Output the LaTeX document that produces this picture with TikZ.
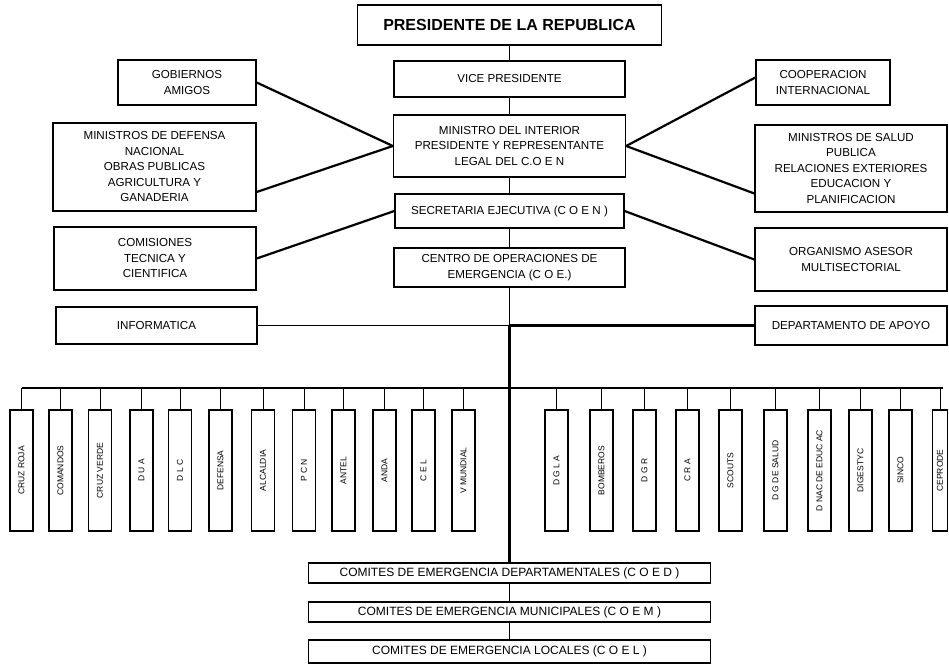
\documentclass[tikz,border=0pt]{standalone}
\usepackage{fontspec}
\setmainfont{Liberation Sans}
\tikzset{
    box/.style={draw, line width=1.3pt, align=center, inner sep=2pt, font=\fontsize{11.6}{15.5}\selectfont},
    topbox/.style={box, font=\bfseries\fontsize{16}{18}\selectfont},
    vbox/.style={draw, line width=1.3pt, minimum width=23pt, minimum height=121pt, inner sep=0pt, font=\fontsize{8.5}{9}\selectfont},
    cbox/.style={draw, line width=1.2pt, minimum width=402pt, inner sep=0pt, font=\fontsize{12}{13}\selectfont},
    link/.style={line width=2.2pt},
    thin link/.style={line width=1pt},
}
\begin{document}
\begin{tikzpicture}[x=1pt, y=-1pt]
        \useasboundingbox (0,0) rectangle (949,667);
        %central column
        \node[topbox, minimum width=304pt, minimum height=40pt] (pres) at (509.5,25) {PRESIDENTE DE LA REPUBLICA};
        \node[box, minimum width=231pt, minimum height=36pt] (vice) at (509.5,79) {VICE PRESIDENTE};
        \node[box, minimum width=232pt, minimum height=62pt] (mint) at (509.5,146) {MINISTRO DEL INTERIOR\\PRESIDENTE Y REPRESENTANTE\\LEGAL DEL C.O E N};
        \node[box, minimum width=229pt, minimum height=34pt] (secr) at (509.5,211) {SECRETARIA EJECUTIVA (C O E N )};
        \node[box, minimum width=231pt, minimum height=39pt] (coe) at (509.5,267.5) {CENTRO DE OPERACIONES DE\\EMERGENCIA (C O E.)};
        %left side
        \node[box, minimum width=138pt, minimum height=45pt] (gob) at (187,82.5) {GOBIERNOS\\AMIGOS};
        \node[box, minimum width=203pt, minimum height=88pt] (mdef) at (154.5,167) {MINISTROS DE DEFENSA\\NACIONAL\\OBRAS PUBLICAS\\AGRICULTURA Y\\GANADERIA};
        \node[box, minimum width=202pt, minimum height=63pt] (comi) at (155,258.5) {COMISIONES\\TECNICA Y\\CIENTIFICA};
        \node[box, minimum width=201pt, minimum height=37pt] (info) at (156.5,325.5) {INFORMATICA};
        %right side
        \node[box, minimum width=134pt, minimum height=45pt] (coop) at (823,82.5) {COOPERACION\\INTERNACIONAL};
        \node[box, minimum width=192pt, minimum height=87pt] (msal) at (851,168.5) {MINISTROS DE SALUD\\PUBLICA\\RELACIONES EXTERIORES\\EDUCACION Y\\PLANIFICACION};
        \node[box, minimum width=192pt, minimum height=63pt] (orga) at (851,259.5) {ORGANISMO ASESOR\\MULTISECTORIAL};
        \node[box, minimum width=192pt, minimum height=39pt] (dept) at (851,325.5) {DEPARTAMENTO DE APOYO};
        %comites
        \node[cbox, minimum height=20pt] (coed) at (509.5,573) {COMITES DE EMERGENCIA DEPARTAMENTALES (C O E D )};
        \node[cbox, minimum height=20pt] (coem) at (509.5,612) {COMITES DE EMERGENCIA MUNICIPALES (C O E M )};
        \node[cbox, minimum height=23pt] (coel) at (509.5,651.5) {COMITES DE EMERGENCIA LOCALES (C O E L )};
        %draw central links
        \draw[thin link] (pres) -- (vice);
        \draw[thin link] (vice) -- (mint);
        \draw[thin link] (mint) -- (secr);
        \draw[thin link] (secr) -- (coe);
        \coordinate (hub) at (coe.south |- info.east);
        \draw[thin link] (coe) -- (hub);
        \draw[link] (hub) -- (coed);
        \draw[thin link] (coed) -- (coem);
        \draw[thin link] (coem) -- (coel);
        \draw[line width=1.3pt] (info) -- (hub);
        \draw[link] (hub) -- (dept);
        %draw side links
        \draw[link] (gob.east) -- (mint.west);
        \draw[link] ([yshift=-25pt]mdef.east) -- (mint.west);
        \draw[link] (comi.east) -- (secr.west);
        \draw[link] ([yshift=5pt]coop.west) -- (mint.east);
        \draw[link] ([yshift=-25pt]msal.west) -- (mint.east);
        \draw[link] (orga.west) -- (secr.east);
        %draw bus
        \coordinate (busL) at (22,388);
        \coordinate (busR) at (943,388);
        \draw[link] (busL) -- (busR);
        %left units
        \node[vbox] (cruzr) at (21.5,470.5) {\rotatebox{90}{CRUZ ROJA}};
        \node[vbox] (coman) at (60.5,470.5) {\rotatebox{90}{COMANDOS}};
        \node[vbox] (cruzv) at (100,470.5) {\rotatebox{90}{CRUZ VERDE}};
        \node[vbox] (dua) at (141.5,470.5) {\rotatebox{90}{D U A}};
        \node[vbox] (dlc) at (180,470.5) {\rotatebox{90}{D L C}};
        \node[vbox] (defe) at (220.5,470.5) {\rotatebox{90}{DEFENSA}};
        \node[vbox] (alca) at (263,470.5) {\rotatebox{90}{ALCALDIA}};
        \node[vbox] (pcn) at (304,470.5) {\rotatebox{90}{P C N}};
        \node[vbox] (ante) at (343.5,470.5) {\rotatebox{90}{ANTEL}};
        \node[vbox] (anda) at (384.5,470.5) {\rotatebox{90}{ANDA}};
        \node[vbox] (cel) at (423.5,470.5) {\rotatebox{90}{C E L}};
        \node[vbox] (vmun) at (463.5,470.5) {\rotatebox{90}{V MUNDIAL}};
        %right units
        \node[vbox] (dgla) at (556.5,470.5) {\rotatebox{90}{D G L A}};
        \node[vbox] (bomb) at (601.5,470.5) {\rotatebox{90}{BOMBEROS}};
        \node[vbox] (dgr) at (644.5,470.5) {\rotatebox{90}{D G R}};
        \node[vbox] (cra) at (687.5,470.5) {\rotatebox{90}{C R A}};
        \node[vbox] (scou) at (730.5,470.5) {\rotatebox{90}{SCOUTS}};
        \node[vbox] (dgsa) at (775.5,470.5) {\rotatebox{90}{D G DE SALUD}};
        \node[vbox] (dnac) at (819.5,470.5) {\rotatebox{90}{D NAC DE EDUC AC}};
        \node[vbox] (dige) at (860.5,470.5) {\rotatebox{90}{DIGESTYC}};
        \node[vbox] (sinc) at (900.5,470.5) {\rotatebox{90}{SINCO}};
        \node[vbox, minimum width=15pt] (cepr) at (940,470.5) {\rotatebox{90}{CEPRODE}};
        %link units to bus
        \draw[thin link] (cruzr) -- (cruzr.north |- busL);
        \draw[thin link] (coman) -- (coman.north |- busL);
        \draw[thin link] (cruzv) -- (cruzv.north |- busL);
        \draw[thin link] (dua) -- (dua.north |- busL);
        \draw[thin link] (dlc) -- (dlc.north |- busL);
        \draw[thin link] (defe) -- (defe.north |- busL);
        \draw[thin link] (alca) -- (alca.north |- busL);
        \draw[thin link] (pcn) -- (pcn.north |- busL);
        \draw[thin link] (ante) -- (ante.north |- busL);
        \draw[thin link] (anda) -- (anda.north |- busL);
        \draw[thin link] (cel) -- (cel.north |- busL);
        \draw[thin link] (vmun) -- (vmun.north |- busL);
        \draw[thin link] (dgla) -- (dgla.north |- busL);
        \draw[thin link] (bomb) -- (bomb.north |- busL);
        \draw[thin link] (dgr) -- (dgr.north |- busL);
        \draw[thin link] (cra) -- (cra.north |- busL);
        \draw[thin link] (scou) -- (scou.north |- busL);
        \draw[thin link] (dgsa) -- (dgsa.north |- busL);
        \draw[thin link] (dnac) -- (dnac.north |- busL);
        \draw[thin link] (dige) -- (dige.north |- busL);
        \draw[thin link] (sinc) -- (sinc.north |- busL);
        \draw[thin link] (cepr) -- (cepr.north |- busL);
\end{tikzpicture}
\end{document}
